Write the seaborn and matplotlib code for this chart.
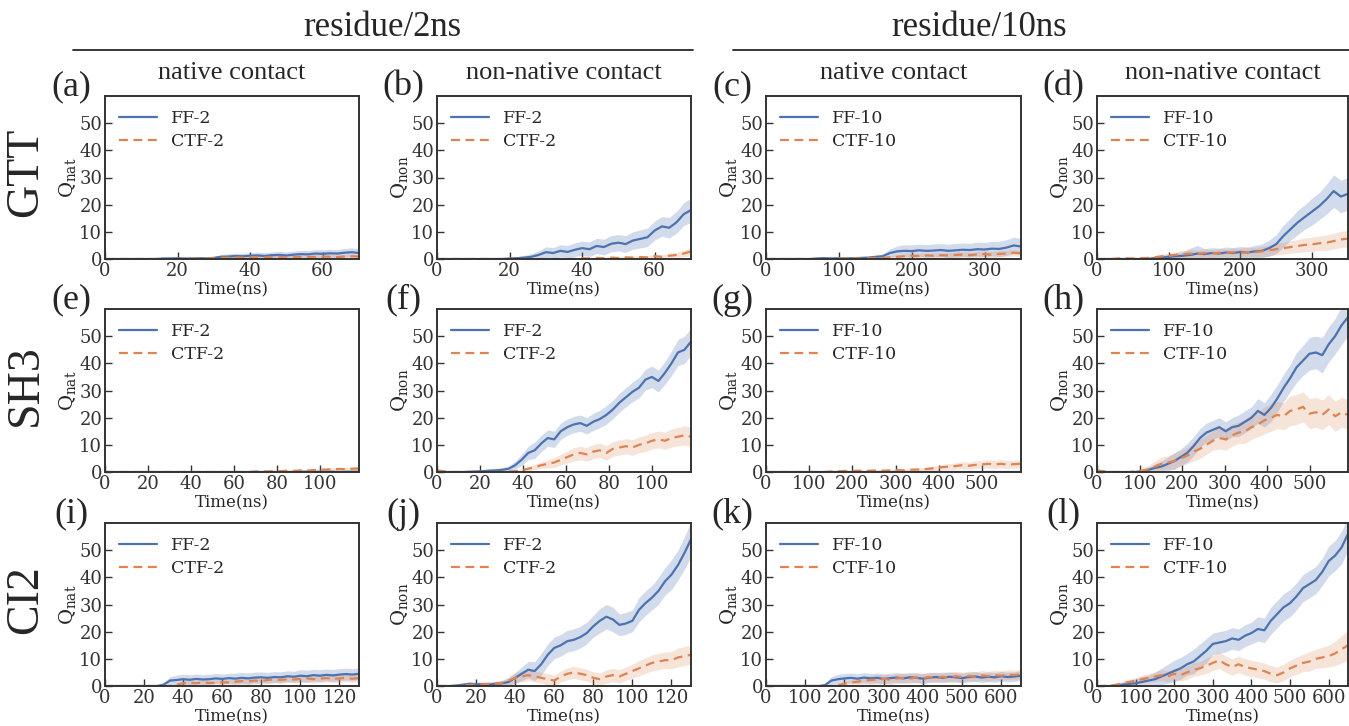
import numpy as np
import matplotlib
matplotlib.use("Agg")
import matplotlib.pyplot as plt
import seaborn as sns
from matplotlib.lines import Line2D

sns.set_theme(style="white")
plt.rcParams['font.family'] = ['DejaVu Serif']
plt.rcParams['mathtext.fontset'] = 'dejavuserif'

# ---------------- labels ----------------
proteins = ["GTT", "SH3", "CI2"]
group_titles = ["residue/2ns", "residue/10ns"]
col_titles = ["native contact", "non-native contact", "native contact", "non-native contact"]
panel_letters = ["(a)", "(b)", "(c)", "(d)", "(e)", "(f)", "(g)", "(h)", "(i)", "(j)", "(k)", "(l)"]
ylabels = [r"$\mathregular{Q_{nat}}$", r"$\mathregular{Q_{non}}$", r"$\mathregular{Q_{nat}}$", r"$\mathregular{Q_{non}}$"]
series_names = [("FF-2", "CTF-2"), ("FF-2", "CTF-2"), ("FF-10", "CTF-10"), ("FF-10", "CTF-10")]
xlabel = "Time(ns)"
y_ticks = [0, 10, 20, 30, 40, 50]

# ---------------- time grids (ns) ----------------
t_gtt_2 = np.arange(0, 71, 2)
t_gtt_10 = np.arange(0, 351, 10)
t_sh3_2 = np.linspace(0, 118, 40)
t_sh3_10 = np.linspace(0, 590, 40)
t_ci2_2 = np.linspace(0, 130, 40)
t_ci2_10 = np.linspace(0, 650, 40)

# ---------------- GTT ----------------
ff_a = [0,0,0,0,0,0,0,0,0.2,0.2,0.3,0.2,0.2,0.3,0.2,0.4,0.8,0.9,1.1,1.0,1.2,1.3,1.1,1.4,1.5,1.3,1.6,1.8,1.7,2.0,1.9,2.1,2.0,2.3,2.5,2.2]
ffsd_a = [0,0,0,0,0,0,0,0,0.2,0.2,0.3,0.3,0.3,0.3,0.3,0.6,0.9,1.0,1.0,1.1,1.1,1.2,1.2,1.2,1.3,1.3,1.3,1.4,1.4,1.4,1.5,1.5,1.5,1.6,1.6,1.6]
ctf_a = [0,0,0,0,0,0,0,0,0,0,0,0.1,0.2,0.1,0.2,0.3,0.4,0.5,0.6,0.5,0.6,0.7,0.6,0.7,0.8,0.6,0.7,0.8,0.7,0.8,0.9,0.8,0.7,0.9,1.0,0.9]
ctfsd_a = [0,0,0,0,0,0,0,0,0,0,0,0.2,0.3,0.3,0.3,0.4,0.4,0.5,0.5,0.5,0.5,0.6,0.6,0.6,0.6,0.6,0.6,0.7,0.7,0.7,0.7,0.8,0.8,0.8,0.8,0.8]

ff_b = [0,0,0,0,0,0,0,0,0,0,0.2,0.3,0.5,0.8,1.5,2.5,2.2,3.0,2.6,3.4,4.0,3.6,4.8,4.4,5.6,6.0,5.5,6.8,7.4,8.0,10.5,12.0,11.5,13.5,16.5,18.0]
ffsd_b = [0,0,0,0,0,0,0,0,0,0,0.3,0.5,0.8,1.2,1.5,2.0,2.0,2.2,2.4,2.5,2.6,2.7,2.8,2.9,3.0,3.0,3.1,3.2,3.3,3.4,3.5,3.6,3.8,4.0,4.2,4.5]
ctf_b = [0,0,0,0,0,0,0,0,0,0,0,0,0,0,0,0,0,0,0,0,0.3,0.2,0.4,0.3,0.5,0.4,0.6,0.5,0.7,0.6,1.0,0.8,1.2,1.5,2.0,2.8]
ctfsd_b = [0,0,0,0,0,0,0,0,0,0,0,0,0,0,0,0,0,0,0,0,0.3,0.3,0.4,0.4,0.5,0.5,0.5,0.5,0.6,0.6,0.7,0.7,0.8,1.0,1.2,1.5]

ff_c = [0,0,0,0,0,0,0,0.2,0.3,0.2,0.3,0.2,0.3,0.4,0.5,0.8,1.0,2.2,2.8,3.0,2.9,3.2,3.0,3.1,3.3,3.0,3.2,3.4,3.3,3.6,3.5,3.8,3.7,4.2,5.0,4.6]
ffsd_c = [0,0,0,0,0,0,0,0.3,0.3,0.3,0.3,0.3,0.3,0.3,0.3,0.5,0.8,1.5,2.0,2.2,2.3,2.3,2.3,2.4,2.4,2.4,2.5,2.5,2.5,2.6,2.6,2.7,2.8,2.9,3.0,3.0]
ctf_c = [0,0,0,0,0,0,0,0,0,0,0.2,0.2,0.3,0.2,0.3,0.4,0.4,0.6,0.8,1.0,1.2,1.1,1.3,1.2,1.4,1.3,1.5,1.6,1.4,1.7,1.8,1.6,1.9,2.0,2.3,2.1]
ctfsd_c = [0,0,0,0,0,0,0,0,0,0,0.3,0.3,0.3,0.3,0.3,0.4,0.5,0.6,0.8,1.0,1.0,1.0,1.0,1.0,1.0,1.1,1.1,1.1,1.1,1.1,1.2,1.2,1.2,1.2,1.2,1.2]

ff_d = [0,0,0,0,0,0,0,0,0.3,0.5,0.8,1.0,1.2,1.5,2.0,1.8,2.2,2.0,2.4,2.2,2.6,2.4,2.8,3.0,4.0,5.5,8.5,11.0,13.5,15.5,17.5,19.5,22.0,25.0,23.0,24.0]
ffsd_d = [0,0,0,0,0,0,0,0,0.5,0.8,1.0,1.2,1.5,2.5,3.0,2.0,2.0,2.0,2.0,2.0,2.0,2.0,2.2,2.5,3.0,3.5,4.0,4.0,4.5,4.5,5.0,5.0,5.5,6.0,6.0,6.0]
ctf_d = [0,0,0,0.2,0.3,0.2,0.3,0.4,0.6,1.0,1.2,1.5,1.8,2.0,1.8,2.2,2.0,2.3,2.2,2.5,2.3,2.6,2.5,2.8,3.2,3.6,4.0,4.4,4.8,5.2,5.4,5.8,6.0,6.6,7.2,7.5]
ctfsd_d = [0,0,0,0.3,0.4,0.3,0.4,0.5,0.6,0.8,1.0,1.2,1.4,1.5,1.5,1.5,1.5,1.5,1.5,1.6,1.6,1.7,1.8,1.9,2.0,2.1,2.2,2.3,2.4,2.5,2.6,2.7,2.8,2.9,3.0,3.0]

# ---------------- SH3 ----------------
ff_e = [0]*30 + [0.1,0.1,0.0,0.1,0.1,0.1,0.0,0.1,0.1,0.1]
ffsd_e = [0]*30 + [0.2]*10
ctf_e = [0]*23 + [0.2,0.3,0.2,0.4,0.3,0.5,0.4,0.6,0.5,0.7,0.8,0.9,1.0,1.1,1.0,1.2,1.3]
ctfsd_e = [0]*23 + [0.3,0.3,0.3,0.4,0.4,0.4,0.5,0.5,0.5,0.6,0.6,0.6,0.7,0.7,0.7,0.8,0.8]

ff_f = [0,0,0,0,0,0.1,0.2,0.3,0.5,0.6,0.8,1.2,2.5,4.5,7.0,8.0,10.5,12.5,12.0,15.0,
        16.5,17.5,18.0,17.0,18.5,19.5,21.0,23.0,25.5,27.5,29.5,31.0,34.0,35.0,33.5,36.5,40.0,44.0,45.0,48.0]
ffsd_f = [0,0,0,0,0,0.2,0.3,0.4,0.5,0.6,0.8,1.0,1.5,2.0,2.5,3.0,3.0,3.0,3.0,3.0,
          3.0,3.0,3.0,3.0,3.2,3.2,3.4,3.4,3.5,3.5,3.6,3.8,3.8,4.0,4.0,4.2,4.5,4.8,5.0,5.0]
ctf_f = [0.6,0.3,0,0,0,0,0,0,0,0,0,0.2,0.3,0.6,1.2,1.8,2.5,3.0,3.5,4.5,
         5.5,6.5,7.0,6.5,7.5,8.0,7.0,8.5,9.0,9.5,9.0,10.0,10.5,11.5,12.0,11.5,12.5,13.0,13.5,13.0]
ctfsd_f = [0.5,0.3,0,0,0,0,0,0,0,0,0,0.3,0.4,0.6,0.8,1.0,1.2,1.5,1.8,2.0,
           2.2,2.4,2.5,2.5,2.6,2.6,2.7,2.7,2.8,2.8,2.9,2.9,3.0,3.0,3.1,3.2,3.3,3.4,3.5,3.5]

ff_g = [0]*40
ffsd_g = [0]*40
ctf_g = [0]*10 + [0.2,0.3,0.4,0.3,0.5,0.4,0.5,0.6,0.5,0.6,0.7,0.6,0.8,0.9,1.0,1.2,1.5,1.8,2.0,2.2,
                  2.5,2.3,2.6,2.8,3.0,2.8,3.0,2.7,2.9,3.0]
ctfsd_g = [0]*10 + [0.3]*10 + [0.5,0.5,0.6,0.6,0.7,0.8,0.9,1.0,1.1,1.2,1.3,1.3,1.4,1.4,1.5,1.5,1.5,1.5,1.5,1.5]

ff_h = [0,0,0,0,0,0,0,0.3,0.8,1.5,2.0,3.0,4.0,5.5,7.0,9.5,12.5,14.5,15.5,16.5,
        15.0,16.5,17.0,18.5,20.0,22.5,21.0,23.5,27.0,31.0,34.5,38.5,41.0,43.5,44.0,43.0,47.0,50.0,54.0,57.0]
ffsd_h = [0,0,0,0,0,0,0,0.5,1.0,1.5,2.0,2.5,3.0,3.0,3.5,3.5,3.5,3.5,3.5,3.5,
          3.5,3.5,4.0,4.0,4.0,4.5,4.5,5.0,5.0,5.0,5.0,5.5,5.5,6.0,6.0,6.5,6.5,6.5,7.0,7.0]
ctf_h = [0.6,0.3,0,0,0,0,0.2,0.5,1.0,2.0,3.0,3.5,4.0,5.0,6.0,7.5,8.5,10.0,11.5,12.5,
         12.0,13.5,14.5,15.0,16.5,17.5,19.0,20.0,21.0,20.5,22.5,23.0,24.0,21.5,22.0,21.0,23.0,20.5,22.0,21.0]
ctfsd_h = [0.5,0.3,0,0,0,0,0.5,1.0,1.5,2.0,2.5,2.5,3.0,3.0,3.0,3.5,3.5,3.5,3.5,4.0,
           4.0,4.0,4.0,4.5,4.5,4.5,5.0,5.0,5.0,5.0,5.5,5.5,5.5,5.5,5.5,5.5,5.5,5.5,5.5,5.5]

# ---------------- CI2 ----------------
ff_i = [0]*9 + [0.5,2.0,2.2,2.5,2.3,2.6,2.4,2.5,2.8,2.6,2.9,2.7,3.0,2.8,3.1,3.2,3.0,3.3,3.2,3.6,3.4,3.8,3.6,4.0,3.8,4.1,3.9,4.2,4.4,4.2,4.5]
ffsd_i = [0]*9 + [0.8,1.5] + [1.8]*9 + [2.0]*10 + [2.2]*10
ctf_i = [0]*11 + [0.5,1.0,1.2,1.0,1.3,1.1,1.2,1.4,1.3,1.6,1.8,1.7,2.0,1.9,2.2,2.4,2.2,2.5,2.4,2.6,2.8,2.5,2.7,2.9,2.6,2.8,3.0,2.7,2.9]
ctfsd_i = [0]*11 + [0.5] + [1.0]*9 + [1.2]*10 + [1.4]*9

ff_j = [0,0,0,0.2,0.5,0.8,0.6,0.7,0.5,0.8,1.0,1.5,3.0,4.5,6.0,5.5,8.0,11.5,14.0,15.0,
        16.5,17.0,18.0,19.5,22.0,24.0,25.5,24.5,22.5,23.0,24.0,28.0,30.5,32.5,35.0,38.5,41.0,44.5,49.0,54.0]
ffsd_j = [0,0,0,0.3,0.5,0.8,0.8,0.8,0.8,0.8,1.0,1.5,2.0,2.5,3.0,3.5,4.0,4.0,4.0,4.0,
          4.0,4.0,4.0,4.0,4.0,4.5,4.5,4.5,4.0,4.0,4.0,4.5,4.5,4.5,5.0,5.0,5.5,5.5,6.0,6.5]
ctf_j = [0,0,0,0,0.2,0.4,0.5,0.6,0.8,0.9,1.2,2.0,3.0,3.5,4.0,3.5,3.0,2.5,2.0,3.5,
         4.5,5.0,4.5,4.0,3.0,2.5,3.5,4.0,3.5,4.5,5.5,6.5,7.5,8.5,9.0,9.5,9.5,10.5,11.0,11.5]
ctfsd_j = [0,0,0,0,0.3,0.5,0.6,0.7,0.8,0.9,1.0,1.5,2.0,2.0,2.0,2.0,2.0,2.0,2.0,2.0,
           2.2,2.2,2.2,2.2,2.2,2.2,2.5,2.5,2.5,2.5,2.5,2.8,2.8,3.0,3.0,3.0,3.2,3.5,3.5,3.5]

ff_k = [0]*9 + [0.3,2.0,2.5,2.8,3.0,2.7,3.1,2.8,3.0,2.6,2.9,3.1,2.8,3.2,3.0,2.7,3.1,3.3,3.0,3.4,3.2,2.9,3.3,3.5,3.1,3.4,3.2,3.6,3.3,3.5,3.8]
ffsd_k = [0]*9 + [0.5,1.5] + [1.8]*29
ctf_k = [0]*11 + [0.3,0.8,1.2,1.6,2.0,2.2,2.4,2.6,2.3,2.8,3.0,2.7,3.1,2.9,3.3,3.0,3.4,3.2,3.6,3.3,3.7,3.5,3.9,3.6,4.0,3.8,4.2,4.0,4.5]
ctfsd_k = [0]*11 + [0.5,1.0,1.2,1.4,1.5] + [1.8]*24

ff_l = [0,0,0,0.2,0.5,0.8,1.0,1.5,2.0,2.5,3.5,4.5,5.5,6.5,8.0,9.0,11.0,13.0,15.5,16.0,
        16.5,17.5,17.0,18.5,19.5,21.0,20.5,24.0,26.5,29.0,30.5,33.0,36.0,37.5,39.0,42.0,46.0,48.0,51.0,56.0]
ffsd_l = [0,0,0,0.5,0.8,1.0,1.5,2.0,2.0,2.5,3.0,3.5,4.0,4.0,4.0,4.5,4.5,4.5,4.0,4.0,
          4.0,4.0,4.0,4.0,4.0,4.5,4.5,5.0,5.0,5.0,5.0,5.0,5.0,5.0,5.0,5.0,5.5,5.5,6.0,6.0]
ctf_l = [0,0,0,0.5,1.0,1.5,2.0,2.5,3.0,3.5,4.0,3.5,4.5,4.0,5.0,6.0,6.5,7.5,8.5,9.5,
         8.0,7.0,8.0,7.0,6.5,6.0,5.5,4.5,4.0,5.0,6.5,7.5,8.5,9.0,10.0,10.5,11.0,12.0,13.5,15.0]
ctfsd_l = [0,0,0,0.5,0.8,1.0,1.2,1.5,1.5,1.8,2.0,2.0,2.2,2.2,2.5,2.5,2.5,2.8,2.8,3.0,
           3.0,3.0,3.0,3.0,3.0,3.0,3.0,3.0,3.0,3.0,3.0,3.2,3.2,3.5,3.5,3.8,4.0,4.5,5.0,5.5]

panels = [
    [(t_gtt_2, ff_a, ffsd_a, ctf_a, ctfsd_a), (t_gtt_2, ff_b, ffsd_b, ctf_b, ctfsd_b),
     (t_gtt_10, ff_c, ffsd_c, ctf_c, ctfsd_c), (t_gtt_10, ff_d, ffsd_d, ctf_d, ctfsd_d)],
    [(t_sh3_2, ff_e, ffsd_e, ctf_e, ctfsd_e), (t_sh3_2, ff_f, ffsd_f, ctf_f, ctfsd_f),
     (t_sh3_10, ff_g, ffsd_g, ctf_g, ctfsd_g), (t_sh3_10, ff_h, ffsd_h, ctf_h, ctfsd_h)],
    [(t_ci2_2, ff_i, ffsd_i, ctf_i, ctfsd_i), (t_ci2_2, ff_j, ffsd_j, ctf_j, ctfsd_j),
     (t_ci2_10, ff_k, ffsd_k, ctf_k, ctfsd_k), (t_ci2_10, ff_l, ffsd_l, ctf_l, ctfsd_l)],
]
x_max = [[70, 70, 350, 350], [118, 118, 590, 590], [130, 130, 650, 650]]
x_step = [20, 20, 100, 100]

# ---------------- layout (pixels) ----------------
W, H = 1349, 726
col_left = [105, 437, 766, 1097]
col_width = [254, 254, 255, 251]
row_top = [96, 309, 523]
ax_h = 163

pal = sns.color_palette("deep")
blue, orange = pal[0], pal[1]
serif = ['Liberation Serif', 'DejaVu Serif']

fig = plt.figure(figsize=(W / 100, H / 100), dpi=100)

for r in range(3):
    for c in range(4):
        l, w, tp = col_left[c], col_width[c], row_top[r]
        ax = fig.add_axes([l / W, 1 - (tp + ax_h) / H, w / W, ax_h / H])
        t, ff, ffsd, ctf, ctfsd = panels[r][c]
        ff, ffsd, ctf, ctfsd = map(np.asarray, (ff, ffsd, ctf, ctfsd))
        ax.fill_between(t, ff - ffsd, ff + ffsd, color=blue, alpha=0.25, lw=0)
        ax.fill_between(t, ctf - ctfsd, ctf + ctfsd, color=orange, alpha=0.22, lw=0)
        sns.lineplot(x=t, y=ff, ax=ax, color=blue, lw=1.6, label=series_names[c][0])
        sns.lineplot(x=t, y=ctf, ax=ax, color=orange, lw=1.6, dashes=False,
                     label=series_names[c][1])
        ax.lines[-1].set_dashes((4, 2.5))
        ax.set_xlim(0, x_max[r][c])
        ax.set_ylim(0, 60)
        ax.set_yticks(y_ticks)
        ax.set_xticks(np.arange(0, x_max[r][c] + 1, x_step[c]))
        ax.tick_params(direction='in', length=5, width=1, labelsize=13, pad=2,
                       bottom=True, left=True, colors='.2')
        for sp in ax.spines.values():
            sp.set_linewidth(1.4)
            sp.set_color('.2')
        ax.set_xlabel(xlabel, fontsize=12, labelpad=1)
        ax.set_ylabel(ylabels[c], fontsize=14, labelpad=1)
        ax.legend(loc='upper left', frameon=False, fontsize=12.5, handlelength=2.2,
                  borderaxespad=0.4, labelspacing=0.35)
        # panel letter
        fig.text((l - 34) / W, 1 - (tp - 9) / H, panel_letters[r * 4 + c],
                 family=serif, fontsize=26, ha='center', va='center')
        if r == 0:
            fig.text((l + w / 2) / W, 1 - (tp - 23) / H, col_titles[c],
                     family=serif, fontsize=19, ha='center', va='center')
    fig.text(26 / W, 1 - (row_top[r] + ax_h / 2 - 5) / H, proteins[r], family=serif,
             fontsize=33, rotation=90, ha='center', va='center')

# group headers
fig.text(382 / W, 1 - 27 / H, group_titles[0], family=serif, fontsize=25, ha='center', va='center')
fig.text(979 / W, 1 - 27 / H, group_titles[1], family=serif, fontsize=25, ha='center', va='center')
fig.add_artist(Line2D([73 / W, 693 / W], [1 - 50 / H, 1 - 50 / H], color='.15', lw=1.3))
fig.add_artist(Line2D([733 / W, 1.0], [1 - 50 / H, 1 - 50 / H], color='.15', lw=1.3))

fig.savefig("out.png", dpi=100)
